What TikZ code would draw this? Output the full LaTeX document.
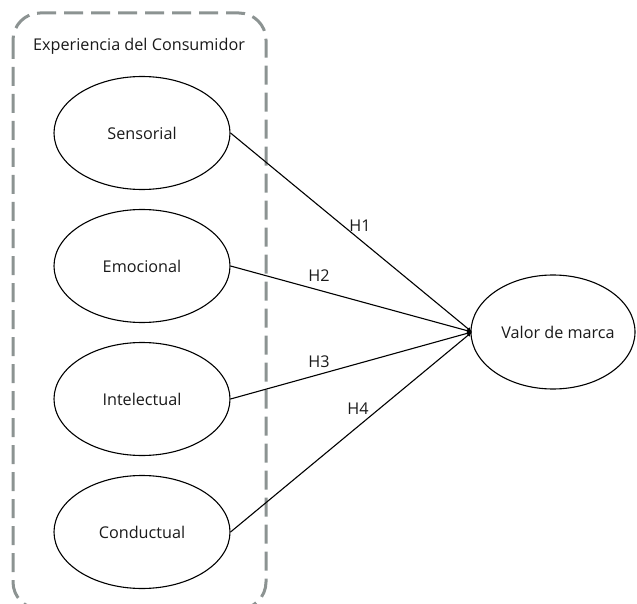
\documentclass[tikz,border=0pt]{standalone}
\usepackage{fontspec}
\setmainfont{Open Sans}
\usetikzlibrary{arrows.meta,shapes.geometric}
\definecolor{boxgray}{HTML}{8C9392}
\definecolor{txt}{HTML}{1A1A1A}
\begin{document}
\begin{tikzpicture}[x=1pt,y=-1pt,
  construct/.style={draw=black, line width=1.1pt, ellipse, minimum width=176pt, minimum height=113pt, inner sep=0pt, text=txt, font=\fontsize{16.2}{19}\selectfont},
  link/.style={draw=black, line width=1.1pt, -{Latex[length=5pt,width=4pt]}},
  hlab/.style={text=txt, font=\fontsize{16.2}{19}\selectfont, inner sep=0pt}]
\useasboundingbox (0,0) rectangle (637,604);
\begin{scope}
\clip (0,0) rectangle (637,604);
\draw[boxgray, line width=3pt, dash pattern=on 19pt off 8pt, rounded corners=27pt] (13,13) rectangle (266,609);
\node[construct, minimum width=164pt, minimum height=114pt] (valor) at (553,332) {};
\end{scope}
\node[text=txt, font=\fontsize{16.2}{19}\selectfont, anchor=west, inner sep=0pt] (titulo) at (33,46) {Experiencia del Consumidor};
\node[construct] (sens) at (142,133) {Sensorial};
\node[construct] (emoc) at (142,266) {Emocional};
\node[construct] (inte) at (142,399) {Intelectual};
\node[construct] (cond) at (142,532) {Conductual};
\node[text=txt, font=\fontsize{16.2}{19}\selectfont, inner sep=0pt] (vlab) at (558,332) {Valor de marca};
\coordinate (tip) at (472,332);
\draw[link] (sens.east) -- (tip);
\draw[link] (emoc.east) -- (tip);
\draw[link] (inte.east) -- (tip);
\draw[link] (cond.east) -- (tip);
\node[hlab] (h1) at (360,226) {H1};
\node[hlab] (h2) at (319,276) {H2};
\node[hlab] (h3) at (319,362) {H3};
\node[hlab] (h4) at (358,409) {H4};
\end{tikzpicture}
\end{document}
